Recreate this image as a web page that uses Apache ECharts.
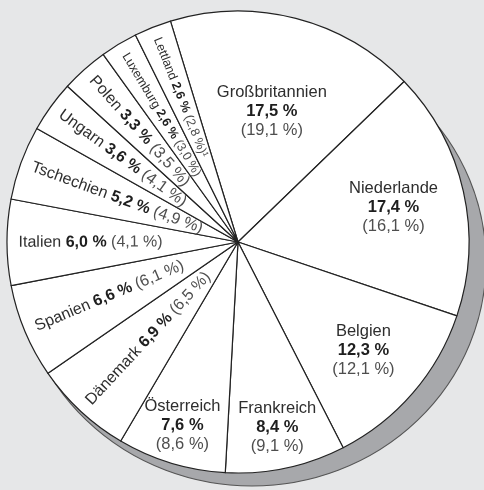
<!DOCTYPE html>
<html>
<head>
<meta charset="utf-8">
<script src="https://cdn.jsdelivr.net/npm/echarts@6.0.0/dist/echarts.min.js"></script>
<style>
  html, body { margin: 0; padding: 0; background: #e6e7e8; }
  .pie { width: 484px; height: 490px; }
</style>
</head>
<body>
<div class="pie"></div>
<script>
// Anteile am Gesamtwert, Vorjahr in Klammern
const countries = ['Großbritannien', 'Niederlande', 'Belgien', 'Frankreich', 'Österreich', 'Dänemark',
  'Spanien', 'Italien', 'Tschechien', 'Ungarn', 'Polen', 'Luxemburg', 'Lettland']
const share = [17.5, 17.4, 12.3, 8.4, 7.6, 6.9, 6.6, 6.0, 5.2, 3.6, 3.3, 2.6, 2.6]
const sharePrev = [19.1, 16.1, 12.1, 9.1, 8.6, 6.5, 6.1, 4.1, 4.9, 4.1, 3.5, 3.0, 2.8]
const notes = ['', '', '', '', '', '', '', '', '', '', '', '', '¹']

// layout
const cx = 238, cy = 242, R = 231
const startAngle = 107
const flatRadius = [0.585, 0.69, 0.717, 0.82, 0.83]  // horizontal labels, fraction of R
const radialStart = 0.95
const font = 'Liberation Sans'

const fmt = v => v.toFixed(1).replace('.', ',') + ' %'

const total = share.reduce((a, b) => a + b, 0)
const midAngle = i => {
  let before = 0
  for (let k = 0; k < i; k++) before += share[k]
  return (-startAngle + (before + share[i] / 2) / total * 360) * Math.PI / 180
}

const pieData = countries.map((name, i) => {
  const flat = i < flatRadius.length
  let text
  if (flat) {
    text = '{n|' + name + '}\n{b|' + fmt(share[i]) + '}\n{p|(' + fmt(sharePrev[i]) + ')}'
  } else {
    const s = share[i] < 3 ? 's' : 'r'
    text = '{n' + s + '|' + name + ' }{b' + s + '|' + fmt(share[i]) + '}{p' + s + '| (' + fmt(sharePrev[i]) + ')' + notes[i] + '}'
  }
  return { name: name, value: share[i], label: { formatter: text } }
})

let chart = echarts.init(document.querySelector('.pie'))
chart.setOption({
  backgroundColor: '#e6e7e8',
  animation: false,
  graphic: [
    {
      // shadow under the disc
      type: 'circle',
      z: 0,
      silent: true,
      x: 252,
      y: 262,
      scaleX: 234 / 224,
      shape: { cx: 0, cy: 0, r: 224 },
      style: { fill: '#a7a8ab', stroke: '#555', lineWidth: 1 }
    }
  ],
  series: [
    {
      type: 'pie',
      silent: true,
      z: 2,
      center: [cx, cy],
      radius: R,
      startAngle: startAngle,
      clockwise: true,
      avoidLabelOverlap: false,
      itemStyle: { color: '#fff', borderColor: '#222', borderWidth: 1.2 },
      labelLine: { show: false },
      label: {
        show: true,
        position: 'inside',
        fontFamily: font,
        rich: {
          n: { fontSize: 16.5, color: '#2e2e2e', lineHeight: 19, fontFamily: font },
          b: { fontSize: 16.5, color: '#1e1e1e', fontWeight: 'bold', lineHeight: 19, fontFamily: font },
          p: { fontSize: 16.5, color: '#4e4e4e', lineHeight: 19, fontFamily: font },
          nr: { fontSize: 16, color: '#2e2e2e', fontFamily: font },
          br: { fontSize: 16, color: '#1e1e1e', fontWeight: 'bold', fontFamily: font },
          pr: { fontSize: 16, color: '#4e4e4e', fontFamily: font },
          ns: { fontSize: 12.5, color: '#2e2e2e', fontFamily: font },
          bs: { fontSize: 12.5, color: '#1e1e1e', fontWeight: 'bold', fontFamily: font },
          ps: { fontSize: 12.5, color: '#4e4e4e', fontFamily: font }
        }
      },
      labelLayout: function (params) {
        const i = params.dataIndex
        const a = midAngle(i)
        const dx = Math.cos(a), dy = Math.sin(a)
        if (i < flatRadius.length) {
          return {
            x: cx + dx * R * flatRadius[i],
            y: cy + dy * R * flatRadius[i],
            align: 'center',
            verticalAlign: 'middle',
            rotate: 0
          }
        }
        return {
          x: cx + dx * R * radialStart,
          y: cy + dy * R * radialStart,
          align: 'left',
          verticalAlign: 'middle',
          rotate: Math.atan2(dy, -dx) * 180 / Math.PI
        }
      },
      data: pieData
    }
  ]
})
</script>
</body>
</html>
